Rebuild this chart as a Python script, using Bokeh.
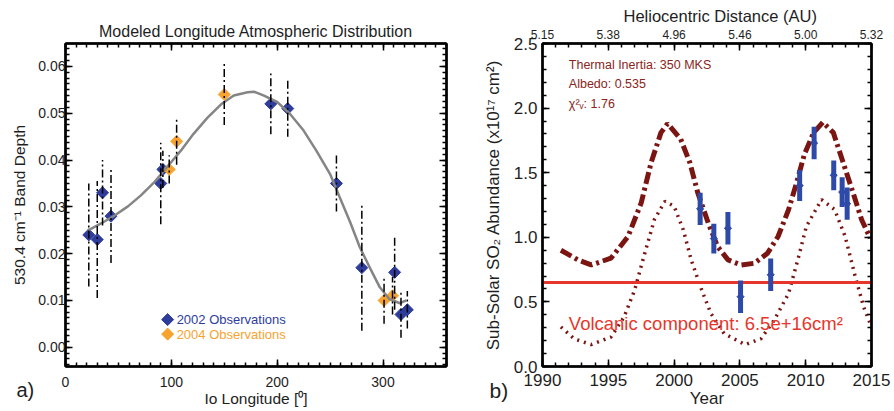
import math
from bokeh.plotting import figure
from bokeh.models import (Range1d, LinearAxis, FixedTicker, Label, SingleIntervalTicker,
                          NumeralTickFormatter, CustomLabelingPolicy, Title)
from bokeh.layouts import row
from bokeh.embed import file_html
from bokeh.resources import INLINE

# ---------------- Panel a) data ----------------
lon_2002 = [22, 30, 35, 43, 90, 92, 194, 210, 256, 280, 311, 317, 323]
depth_2002 = [0.024, 0.023, 0.033, 0.028, 0.035, 0.038, 0.052, 0.051, 0.035, 0.017, 0.016, 0.007, 0.008]
err_2002 = [0.011, 0.0125, 0.007, 0.010, 0.0087, 0.004, 0.0065, 0.006, 0.006, 0.0135, 0.008, 0.005, 0.004]
lon_2004 = [98, 105, 150, 301, 309]
depth_2004 = [0.038, 0.044, 0.054, 0.010, 0.011]
err_2004 = [0.003, 0.005, 0.0065, 0.005, 0.004]
fit_lon = [21, 34, 46, 59, 71, 84, 96, 109, 121, 134, 147, 159, 172, 178, 187, 200, 212, 225,
           237, 250, 259, 269, 278, 288, 297, 306, 316, 322]
fit_depth = [0.0249, 0.0265, 0.0281, 0.0301, 0.0324, 0.0353, 0.0385, 0.042, 0.0456, 0.049, 0.0519,
             0.0538, 0.0545, 0.0546, 0.0538, 0.0524, 0.0499, 0.0463, 0.042, 0.037, 0.0321, 0.0267,
             0.0214, 0.0168, 0.0128, 0.0103, 0.0094, 0.0100]

# ---------------- Panel b) data ----------------
obs_year = [2001.98, 2003.02, 2004.09, 2005.05, 2007.34, 2009.54, 2010.64, 2012.13, 2012.77, 2013.15]
obs_abund = [1.22, 0.99, 1.07, 0.54, 0.71, 1.40, 1.73, 1.48, 1.35, 1.26]
obs_err = [0.125, 0.115, 0.125, 0.125, 0.125, 0.12, 0.125, 0.115, 0.115, 0.125]

model_year = [1991.4, 1992.7, 1993.7, 1995.2, 1996.5, 1997.5, 1998.25, 1999.0, 1999.5, 2000.5, 2001.2,
              2001.8, 2002.6, 2003.3, 2004.1, 2005.1, 2006.1, 2007.1, 2007.9, 2008.7, 2009.3, 2009.9,
              2010.6, 2011.3, 2012.1, 2012.85, 2013.6, 2014.25, 2014.9]
model_total = [0.90, 0.825, 0.786, 0.838, 1.006, 1.266, 1.577, 1.81, 1.88, 1.76, 1.577,
               1.344, 1.11, 0.929, 0.825, 0.786, 0.799, 0.877, 1.006, 1.214, 1.42, 1.642,
               1.81, 1.89, 1.81, 1.577, 1.344, 1.136, 0.994]

subl_year = [1991.4, 1992.4, 1993.7, 1995.2, 1996.2, 1997.0, 1997.7, 1998.5, 1999.3, 2000.0, 2000.7,
             2001.3, 2002.1, 2002.8, 2003.8, 2005.4, 2006.6, 2007.6, 2008.7, 2009.4, 2010.05, 2011.2,
             2012.2, 2013.0, 2013.7, 2014.4, 2014.9]
subl_abund = [0.306, 0.215, 0.169, 0.228, 0.384, 0.591, 0.851, 1.136, 1.279, 1.24, 1.058,
              0.825, 0.591, 0.41, 0.254, 0.169, 0.215, 0.358, 0.566, 0.825, 1.084, 1.292,
              1.214, 1.006, 0.721, 0.462, 0.332]

volcanic_level = 0.65
year_span = [1990, 2015]

helio_tick_years = [1990, 1995, 2000, 2005, 2010, 2015]
helio_tick_labels = ["5.15", "5.38", "4.96", "5.46", "5.00", "5.32"]

FONT = "Liberation Sans"
TXT = "#1e1e1e"
BLUE = "#2e3d9c"
ORANGE = "#f7a330"
DARKRED = "#7a1512"
RED = "#e8352b"
ANNOT = "#8c2420"

NO_LABELS = "for (const i of indices) { indices.unset(i) }\nreturn indices"


def style_axis(ax, size, labels=True, standoff=5):
    ax.axis_line_width = 2.5
    ax.axis_line_color = "black"
    ax.major_tick_in = 7
    ax.major_tick_out = 0
    ax.minor_tick_in = 4
    ax.minor_tick_out = 0
    ax.major_tick_line_width = 1.5
    ax.minor_tick_line_width = 1.5
    ax.major_tick_line_color = "black"
    ax.minor_tick_line_color = "black"
    ax.major_label_text_font = FONT
    ax.major_label_text_color = TXT
    ax.major_label_standoff = standoff
    ax.major_label_text_font_size = f"{size}px" if labels else "0px"
    if not labels:
        ax.major_label_policy = CustomLabelingPolicy(code=NO_LABELS)
    ax.axis_label_text_font = FONT
    ax.axis_label_text_font_style = "normal"
    ax.axis_label_text_color = TXT


def bare_axis(ax, label, size, label_standoff):
    ax.axis_line_color = None
    ax.major_tick_line_color = None
    ax.minor_tick_line_color = None
    ax.major_tick_in = 0
    ax.major_tick_out = 0
    ax.minor_tick_in = 0
    ax.minor_tick_out = 0
    ax.major_label_standoff = 0
    ax.major_label_text_font_size = "0px"
    ax.major_label_policy = CustomLabelingPolicy(code=NO_LABELS)
    ax.axis_label = label
    ax.axis_label_text_font = FONT
    ax.axis_label_text_font_style = "normal"
    ax.axis_label_text_font_size = f"{size}px"
    ax.axis_label_text_color = TXT
    ax.axis_label_standoff = label_standoff


def strip(width, border_left, ylabel, ysize, tag, tag_size, tag_offset, tag_standoff):
    s = figure(width=width, height=411, x_range=Range1d(0, 1), y_range=Range1d(0, 1),
               x_axis_type=None, output_backend="svg", toolbar_location=None,
               min_border_left=border_left, min_border_right=0, min_border_top=0, min_border_bottom=0)
    s.outline_line_color = None
    s.xgrid.visible = False
    s.ygrid.visible = False
    bare_axis(s.yaxis[0], ylabel, ysize, 0)
    s.add_layout(Title(text=tag, align="left", offset=tag_offset, standoff=tag_standoff,
                       vertical_align="bottom", text_font=FONT, text_font_style="normal",
                       text_font_size=f"{tag_size}px", text_color=TXT), "below")
    return s


# ================= strip left of panel a =================
sa = strip(35, 27, "530.4 cm\u207b\u00b9 Band Depth", 15.5, "a)", 20, -11, 21)

# ================= Panel a =================
p1 = figure(width=415, height=411, x_range=Range1d(0, 360), y_range=Range1d(-0.00412, 0.0649),
            output_backend="svg", toolbar_location=None,
            min_border_left=29, min_border_right=4, min_border_top=43, min_border_bottom=45)
p1.xgrid.visible = False
p1.ygrid.visible = False
p1.outline_line_color = "black"
p1.outline_line_width = 2
p1.title.text = "Modeled Longitude Atmospheric Distribution"
p1.title.align = "center"
p1.title.text_font = FONT
p1.title.text_font_style = "normal"
p1.title.text_font_size = "16px"
p1.title.text_color = TXT
p1.title.standoff = 7

p1.xaxis.ticker = SingleIntervalTicker(interval=100, num_minor_ticks=10)
p1.yaxis.ticker = SingleIntervalTicker(interval=0.01, num_minor_ticks=8)
p1.yaxis.formatter = NumeralTickFormatter(format="0.00")
style_axis(p1.xaxis[0], 14, standoff=10)
style_axis(p1.yaxis[0], 14, standoff=0)
p1.xaxis.axis_label = "Io Longitude [\u2070]"
p1.xaxis.axis_label_text_font_size = "15.5px"
p1.xaxis.axis_label_standoff = 0
top1 = LinearAxis(ticker=SingleIntervalTicker(interval=100, num_minor_ticks=10))
right1 = LinearAxis(ticker=SingleIntervalTicker(interval=0.01, num_minor_ticks=8))
style_axis(top1, 0, labels=False, standoff=0)
style_axis(right1, 0, labels=False, standoff=0)
p1.add_layout(top1, "above")
p1.add_layout(right1, "right")

p1.scatter(lon_2002, depth_2002, marker="square", angle=math.pi / 4, size=8.5,
           fill_color=BLUE, line_color=BLUE)
p1.scatter(lon_2004, depth_2004, marker="square", angle=math.pi / 4, size=8.5,
           fill_color=ORANGE, line_color=ORANGE)
p1.line(fit_lon, fit_depth, line_color="#858585", line_width=2.5)
p1.segment(lon_2002, [d - e for d, e in zip(depth_2002, err_2002)],
           lon_2002, [d + e for d, e in zip(depth_2002, err_2002)],
           line_color="black", line_width=1.5, line_dash="8 3 2 3")
p1.segment(lon_2004, [d - e for d, e in zip(depth_2004, err_2004)],
           lon_2004, [d + e for d, e in zip(depth_2004, err_2004)],
           line_color="black", line_width=1.5, line_dash="8 3 2 3")

# legend
p1.scatter([96.5], [0.0059], marker="square", angle=math.pi / 4, size=8.5, fill_color=BLUE, line_color=BLUE)
p1.scatter([96.5], [0.0028], marker="square", angle=math.pi / 4, size=8.5, fill_color=ORANGE, line_color=ORANGE)
p1.add_layout(Label(x=105, y=0.0059, text="2002 Observations", text_color=BLUE, text_font=FONT,
                    text_font_size="13px", text_baseline="middle"))
p1.add_layout(Label(x=105, y=0.0028, text="2004 Observations", text_color=ORANGE, text_font=FONT,
                    text_font_size="13px", text_baseline="middle"))

# ================= strip left of panel b =================
sb = strip(58, 52, "Sub-Solar SO\u2082 Abundance (x10\u00b9\u2077 cm\u00b2)", 17, "b)", 21, -13, 20)

# ================= Panel b =================
p2 = figure(width=386, height=411, x_range=Range1d(1990, 2015), y_range=Range1d(0, 2.5),
            output_backend="svg", toolbar_location=None,
            min_border_left=34, min_border_right=23, min_border_top=43, min_border_bottom=45)
p2.xgrid.visible = False
p2.ygrid.visible = False
p2.outline_line_color = "black"
p2.outline_line_width = 2
p2.title.text = "Heliocentric Distance (AU)"
p2.title.align = "left"
p2.title.offset = 81
p2.title.text_font = FONT
p2.title.text_font_style = "normal"
p2.title.text_font_size = "16.5px"
p2.title.text_color = TXT
p2.title.standoff = 3

p2.xaxis.ticker = SingleIntervalTicker(interval=5, num_minor_ticks=5)
p2.yaxis.ticker = SingleIntervalTicker(interval=0.5, num_minor_ticks=5)
p2.yaxis.formatter = NumeralTickFormatter(format="0.0")
style_axis(p2.xaxis[0], 17, standoff=7)
style_axis(p2.yaxis[0], 17, standoff=5)
p2.xaxis.axis_label = "Year"
p2.xaxis.axis_label_text_font_size = "17px"
p2.xaxis.axis_label_standoff = 0
top2 = LinearAxis(ticker=FixedTicker(ticks=helio_tick_years, minor_ticks=list(range(1990, 2016))),
                  major_label_overrides={t: l for t, l in zip(helio_tick_years, helio_tick_labels)})
style_axis(top2, 12, standoff=5)
right2 = LinearAxis(ticker=SingleIntervalTicker(interval=0.5, num_minor_ticks=5))
style_axis(right2, 0, labels=False, standoff=0)
p2.add_layout(top2, "above")
p2.add_layout(right2, "right")

p2.line(subl_year, subl_abund, line_color=DARKRED, line_width=3.5, line_dash="2 5")
p2.line(model_year, model_total, line_color=DARKRED, line_width=5, line_dash="12 4 3 4")
p2.line(year_span, [volcanic_level, volcanic_level], line_color=RED, line_width=3)
p2.segment(obs_year, [a - e for a, e in zip(obs_abund, obs_err)],
           obs_year, [a + e for a, e in zip(obs_abund, obs_err)],
           line_color="#2d4aa8", line_width=5)
p2.scatter(obs_year, obs_abund, marker="square", angle=math.pi / 4, size=5,
           fill_color="#2d4aa8", line_color="#2d4aa8")

p2.add_layout(Label(x=1992.0, y=2.337, text="Thermal Inertia: 350 MKS", text_color=ANNOT,
                    text_font=FONT, text_font_size="12.5px", text_baseline="middle"))
p2.add_layout(Label(x=1992.0, y=2.187, text="Albedo: 0.535", text_color=ANNOT,
                    text_font=FONT, text_font_size="12.5px", text_baseline="middle"))
p2.add_layout(Label(x=1992.0, y=2.031, text="\u03c7\u00b2\u1d65: 1.76", text_color=ANNOT,
                    text_font=FONT, text_font_size="12.5px", text_baseline="middle"))
p2.add_layout(Label(x=1992.0, y=0.332, text="Volcanic component: 6.5e+16cm\u00b2", text_color=RED,
                    text_font=FONT, text_font_size="18.5px", text_baseline="middle"))

layout = row(sa, p1, sb, p2)
open("out.html", "w").write(file_html(layout, INLINE))
